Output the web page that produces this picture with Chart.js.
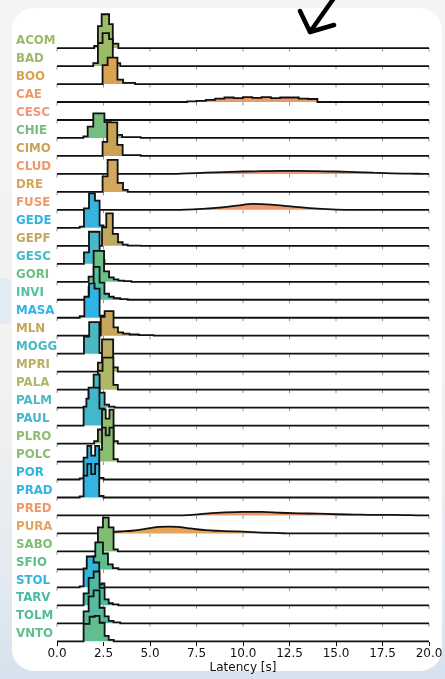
<!DOCTYPE html>
<html>
<head>
<meta charset="utf-8">
<script src="https://cdn.jsdelivr.net/npm/chart.js@4.4.1/dist/chart.umd.min.js"></script>
<style>
  html, body { margin: 0; padding: 0; }
  body {
    width: 445px; height: 679px; overflow: hidden; position: relative;
    background: linear-gradient(180deg, #f4f4f2 0%, #f2f2f1 55%, #e4eaf0 85%, #d6e2ee 100%);
  }
  #card {
    position: absolute; left: 12px; top: 8px; width: 430px; height: 663px;
    background: #fff; border-radius: 22px;
  }
  #side {
    position: absolute; left: 0; top: 278px; width: 11px; height: 46px;
    background: #e3ebf2; border-radius: 0 6px 6px 0;
  }
  #arrow { position: absolute; left: 0; top: 0; }
  canvas { position: absolute; left: 0; top: 0; }
</style>
</head>
<body>
<div id="card"></div>
<div id="side"></div>
<svg id="arrow" width="445" height="60">
  <path d="M334 -2 L310 32 M300 11 L310 32 L334 25" fill="none" stroke="#000" stroke-width="4.5" stroke-linecap="round" stroke-linejoin="round"/>
</svg>
<canvas id="c" width="445" height="679"></canvas>
<script>
const stations = ["ACOM", "BAD", "BOO", "CAE", "CESC", "CHIE", "CIMO", "CLUD", "DRE", "FUSE",
  "GEDE", "GEPF", "GESC", "GORI", "INVI", "MASA", "MLN", "MOGG", "MPRI", "PALA",
  "PALM", "PAUL", "PLRO", "POLC", "POR", "PRAD", "PRED", "PURA", "SABO", "SFIO",
  "STOL", "TARV", "TOLM", "VNTO"];

const colors = ["#9dba66", "#9dba66", "#dba254", "#ec9a66", "#f2957a", "#76bd80", "#caa254", "#ef9870", "#d3a85e", "#ee9a66",
  "#35b4de", "#bfa95e", "#45b8cc", "#6dbf86", "#52c0a4", "#2fb4e8", "#c5a65a", "#48b9c2", "#bcae62", "#b0b867",
  "#4bbac4", "#43b8cc", "#8fbd6c", "#8bbd70", "#2eb3e6", "#33b5e3", "#ef9865", "#e3a45c", "#80bd74", "#5dbd8e",
  "#35b4dc", "#4dbba3", "#55bc9d", "#62bd8f"];

// histogram bin edges [s], one list per station
const binEdges = [
  [2.0, 2.2, 2.4, 2.8, 3.0, 3.3],
  [1.95, 2.2, 2.45, 2.8, 3.0, 3.2, 3.4],
  [2.45, 2.72, 3.25, 3.55, 4.2],
  [7, 7.5, 8, 8.5, 9, 9.5, 10, 10.5, 11, 11.5, 12, 12.5, 13, 13.5, 14],
  [],
  [1.42, 1.65, 1.95, 2.55, 2.9, 3.2, 3.5, 4.5],
  [2.45, 2.7, 3.24, 3.53, 4.5],
  [],
  [2.45, 2.72, 3.26, 3.55, 3.8],
  [],
  [1.22, 1.45, 1.72, 2.04, 2.29, 2.5],
  [2.42, 2.65, 3.0, 3.28, 3.53, 3.8, 4.5],
  [1.45, 1.72, 2.29, 2.55],
  [1.7, 1.97, 2.53, 2.8, 3.05, 3.3, 3.6, 4.0],
  [1.7, 1.97, 2.29, 2.55, 2.8, 3.05, 3.4, 3.8],
  [1.22, 1.47, 1.72, 2.02, 2.29, 2.5],
  [2.35, 2.56, 3.04, 3.28, 3.55, 3.9, 4.4, 5.2],
  [1.45, 1.73, 2.28, 2.5],
  [2.2, 2.42, 3.02, 3.27],
  [2.0, 2.2, 2.45, 3.03, 3.27],
  [1.7, 1.97, 2.29, 2.56, 2.8, 3.1],
  [1.43, 1.58, 1.7, 2.28, 2.56, 2.8],
  [2.0, 2.2, 2.42, 2.62, 2.82, 3.04, 3.27],
  [2.2, 2.42, 2.62, 2.82, 3.04, 3.27],
  [1.22, 1.43, 1.63, 1.84, 2.05, 2.27, 2.5],
  [1.22, 1.43, 1.63, 1.84, 2.05, 2.27, 2.5],
  [],
  [],
  [2.2, 2.47, 2.78, 3.04, 3.27],
  [1.93, 2.06, 2.47, 2.74, 3.0, 3.3],
  [1.22, 1.43, 1.6, 1.97, 2.27, 2.4, 2.55],
  [1.43, 1.7, 1.97, 2.29, 2.56, 2.78, 3.0, 3.3],
  [1.43, 1.7, 1.97, 2.29, 2.56, 2.78, 3.04, 3.4],
  [1.43, 1.75, 2.02, 2.29, 2.56, 2.78, 3.05]
];

// density per bin
const binDensity = [
  [0.07, 0.73, 1.13, 0.8, 0.15],
  [0.1, 0.77, 1.1, 0.9, 0.27, 0.1],
  [0.63, 0.88, 0.15, 0.04],
  [0.02, 0.04, 0.07, 0.11, 0.15, 0.13, 0.16, 0.14, 0.16, 0.13, 0.15, 0.15, 0.11, 0.10],
  [],
  [0.05, 0.38, 0.82, 0.53, 0.2, 0.1, 0.03],
  [0.47, 1.12, 0.37, 0.03],
  [],
  [0.52, 1.07, 0.3, 0.07],
  [],
  [0.04, 0.65, 1.15, 0.91, 0.08],
  [0.62, 1.08, 0.4, 0.12, 0.04, 0.01],
  [0.38, 1.07, 0.13],
  [0.17, 1.03, 0.35, 0.15, 0.08, 0.04, 0.02],
  [0.43, 1.1, 0.57, 0.2, 0.1, 0.05, 0.02],
  [0.05, 0.7, 1.15, 0.97, 0.07],
  [0.63, 0.82, 0.28, 0.11, 0.07, 0.04, 0.02],
  [0.57, 1.05, 0.03],
  [0.3, 1.08, 0.14],
  [0.08, 0.63, 1.07, 0.16],
  [0.53, 1.1, 0.5, 0.1, 0.03],
  [0.63, 0.9, 1.27, 0.57, 0.17],
  [0.08, 0.47, 1.13, 0.83, 1.13, 0.08],
  [0.4, 1.13, 0.87, 1.13, 0.08],
  [0.04, 0.73, 1.12, 0.8, 1.12, 0.05],
  [0.04, 0.73, 1.12, 0.78, 1.12, 0.05],
  [],
  [],
  [0.8, 1.13, 0.8, 0.07],
  [0.43, 0.9, 0.53, 0.17, 0.04],
  [0.03, 0.63, 1.03, 0.83, 0.1, 0.13],
  [0.4, 0.92, 1.13, 0.58, 0.2, 0.07, 0.03],
  [0.4, 0.9, 1.1, 0.52, 0.23, 0.08, 0.03],
  [0.58, 0.82, 0.85, 0.62, 0.18, 0.05]
];

// the wide, smooth distributions
const curveStations = ["CLUD", "FUSE", "PRED", "PURA"];
const curveX = [
  [6, 7, 8, 9, 10, 11, 12, 13, 14, 15, 16, 17, 18, 19, 20],
  [6.5, 7, 8, 9, 10, 10.5, 11, 12, 13, 14, 15, 16],
  [6.5, 7, 8, 9, 10, 11, 12, 13, 14, 15, 16, 17, 18, 19, 20],
  [2.5, 3, 3.5, 4, 4.5, 5, 5.5, 6, 6.5, 7, 7.5, 8, 8.5, 9, 9.5, 10, 11, 12, 12.5]
];
const curveDensity = [
  [0, 0.02, 0.04, 0.06, 0.08, 0.09, 0.1, 0.1, 0.09, 0.08, 0.06, 0.04, 0.02, 0.01, 0],
  [0, 0.01, 0.04, 0.09, 0.17, 0.2, 0.19, 0.15, 0.09, 0.04, 0.01, 0],
  [0, 0.01, 0.06, 0.1, 0.12, 0.12, 0.09, 0.07, 0.06, 0.04, 0.03, 0.02, 0.02, 0.01, 0],
  [0, 0.05, 0.07, 0.09, 0.13, 0.18, 0.22, 0.23, 0.22, 0.18, 0.14, 0.11, 0.09, 0.08, 0.07, 0.06, 0.03, 0.01, 0]
];

const xTicks = [0, 2.5, 5, 7.5, 10, 12.5, 15, 17.5, 20];

const rowGap = 0.6;      // density units between two baselines
const labelLift = 0.385; // station name sits a bit above its baseline
const n = stations.length;

function baseOf(i) {
  return n - 1 - i;
}

const datasets = stations.map((name, i) => {
  const base = baseOf(i);
  const c = curveStations.indexOf(name);
  let pts;
  if (c >= 0) {
    pts = curveX[c].map((x, k) => ({ x: x, y: base + curveDensity[c][k] / rowGap }));
  } else {
    pts = binEdges[i].map((x, k) => ({ x: x, y: base + (binDensity[i][k] || 0) / rowGap }));
  }
  return {
    label: name,
    data: [{ x: 0, y: base }, ...pts, { x: 20, y: base }],
    stepped: c >= 0 ? false : 'before',
    cubicInterpolationMode: c >= 0 ? 'monotone' : 'default',
    tension: 0,
    fill: { value: base },
    backgroundColor: colors[i],
    borderColor: '#111',
    borderWidth: 1.8,
    borderJoinStyle: 'miter',
    pointRadius: 0,
    order: n - i,   // later rows drawn on top
    clip: false
  };
});

// small tick marks under every ridge baseline
const rowTicks = {
  id: 'rowTicks',
  beforeDatasetsDraw(chart) {
    const { ctx, scales } = chart;
    ctx.save();
    ctx.strokeStyle = '#777';
    ctx.lineWidth = 0.8;
    for (let i = 0; i < n - 1; i++) {
      const py = scales.y.getPixelForValue(baseOf(i));
      xTicks.forEach(v => {
        const px = scales.x.getPixelForValue(v);
        ctx.beginPath();
        ctx.moveTo(px, py);
        ctx.lineTo(px, py + 3.5);
        ctx.stroke();
      });
    }
    ctx.restore();
  }
};

new Chart(document.getElementById('c'), {
  type: 'line',
  data: { datasets: datasets },
  options: {
    responsive: false,
    animation: false,
    devicePixelRatio: 1,
    layout: { padding: { left: 16, right: 16, top: 8, bottom: 4 } },
    plugins: {
      legend: { display: false },
      tooltip: { enabled: false }
    },
    scales: {
      x: {
        type: 'linear',
        min: 0,
        max: 20,
        afterBuildTicks: axis => { axis.ticks = xTicks.map(v => ({ value: v })); },
        ticks: {
          callback: v => v.toFixed(1),
          color: '#111',
          font: { family: 'DejaVu Sans', size: 12 },
          padding: 0,
          maxRotation: 0,
          autoSkip: false
        },
        grid: { drawOnChartArea: false, drawTicks: true, tickLength: 4, color: '#111' },
        border: { display: false },
        title: {
          display: true,
          text: 'Latency [s]',
          color: '#111',
          font: { family: 'DejaVu Sans', size: 12 },
          padding: { top: 0, bottom: 0 }
        }
      },
      y: {
        type: 'linear',
        min: -0.05,
        max: 35.23,
        afterBuildTicks: axis => {
          axis.ticks = stations.map((s, i) => ({ value: baseOf(i) + labelLift }));
        },
        afterFit: axis => { axis.width = 41; },
        ticks: {
          callback: (v, i) => stations[i],
          color: ctx => colors[ctx.index],
          font: { family: 'DejaVu Sans', size: 11.8, weight: 'bold' },
          crossAlign: 'far',
          padding: 0,
          autoSkip: false
        },
        grid: { display: false, drawTicks: false },
        border: { display: false }
      }
    }
  },
  plugins: [rowTicks]
});
</script>
</body>
</html>
